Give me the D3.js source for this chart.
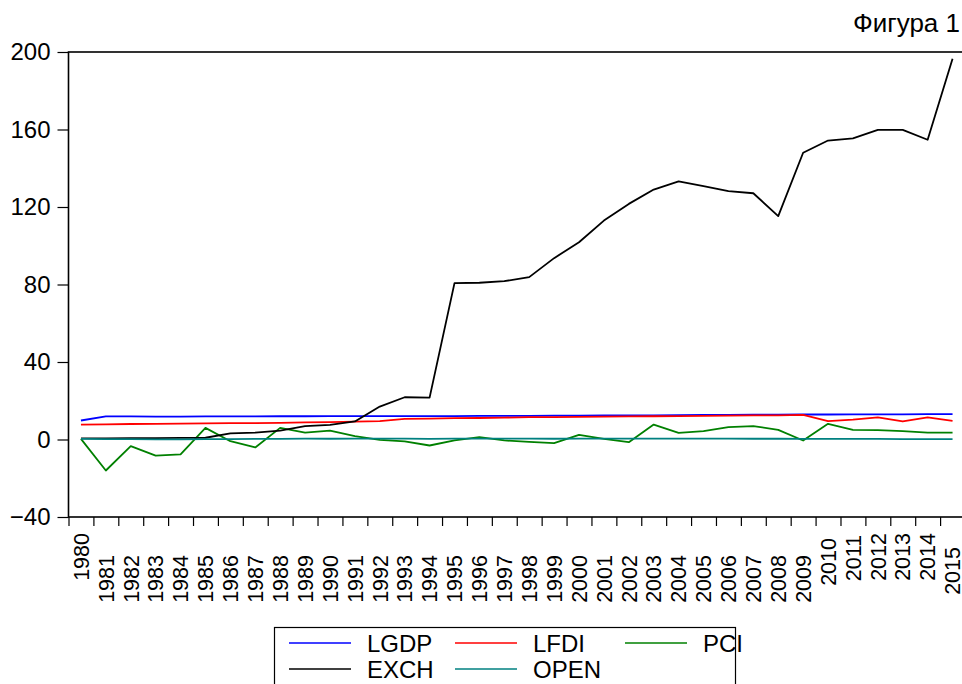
<!DOCTYPE html>
<html>
<head>
<meta charset="utf-8">
<script src="https://cdn.jsdelivr.net/npm/d3@7"></script>
<style>
  body { margin: 0; background: #fff; }
  svg { display: block; font-family: "Liberation Sans", Arial, sans-serif; }
</style>
</head>
<body>
<svg id="chart" width="962" height="684"></svg>
<script>
var years = d3.range(1980, 2016);

var lgdp = [9.8, 11.9, 11.9, 11.8, 11.8, 11.9, 11.9, 11.9, 12.0, 12.0, 12.1, 12.1, 12.1, 12.1, 12.1, 12.1, 12.2, 12.2, 12.2, 12.3, 12.3, 12.4, 12.5, 12.5, 12.6, 12.7, 12.7, 12.8, 12.8, 12.9, 12.9, 13.0, 13.0, 13.0, 13.1, 13.1];
var lfdi = [7.7, 7.8, 8.0, 8.1, 8.2, 8.3, 8.4, 8.5, 8.6, 8.8, 9.0, 9.2, 9.5, 10.6, 10.8, 11.0, 11.1, 11.3, 11.5, 11.6, 11.7, 11.8, 11.9, 12.0, 12.1, 12.2, 12.3, 12.4, 12.5, 12.7, 9.5, 10.3, 11.4, 9.3, 11.4, 9.6];
var pci = [0.3, -16.0, -3.4, -8.3, -7.7, 6.0, -0.9, -4.1, 6.0, 3.6, 4.6, 1.7, -0.2, -1.0, -3.1, -0.5, 1.2, -0.5, -1.2, -1.9, 2.4, 0.3, -1.4, 7.7, 3.4, 4.3, 6.4, 6.9, 5.0, -0.5, 8.1, 5.0, 4.8, 4.3, 3.6, 3.6];
var exch = [0.6, 0.6, 0.7, 0.7, 0.8, 0.9, 3.2, 3.6, 4.6, 6.9, 7.6, 9.3, 17.0, 21.8, 21.6, 80.7, 80.9, 81.7, 83.8, 93.6, 101.8, 113.0, 121.6, 129.0, 133.2, 130.8, 128.2, 127.1, 115.3, 148.0, 154.3, 155.4, 159.8, 159.8, 154.7, 196.5];
var open = [0.3, 0.2, 0.2, 0.1, 0.1, 0.2, 0.2, 0.3, 0.3, 0.4, 0.4, 0.5, 0.5, 0.4, 0.3, 0.4, 0.5, 0.5, 0.4, 0.4, 0.5, 0.5, 0.4, 0.5, 0.5, 0.5, 0.4, 0.4, 0.4, 0.3, 0.3, 0.3, 0.3, 0.2, 0.2, 0.2];

var yTicks = [-40, 0, 40, 80, 120, 160, 200];

var series = [
  { name: "LGDP", values: lgdp, color: "#0000ff" },
  { name: "LFDI", values: lfdi, color: "#ff0000" },
  { name: "PCI",  values: pci,  color: "#008000" },
  { name: "EXCH", values: exch, color: "#000000" },
  { name: "OPEN", values: open, color: "#008080" }
];

// odd vertical shifts of a few year labels in the original
var labelLift = { 1980: 22, 2010: 17, 2011: 20, 2012: 22, 2013: 22, 2014: 22, 2015: 8 };

var svg = d3.select("#chart");

var plotLeft = 68.5, plotRight = 965, plotTop = 52, plotBottom = 517;

var x = d3.scaleLinear().domain([1979.5, 2015.5]).range([plotLeft, plotRight]);
var y = d3.scaleLinear().domain([-40, 200]).range([plotBottom, plotTop]);

// frame
svg.append("rect")
  .attr("x", plotLeft).attr("y", plotTop)
  .attr("width", plotRight - plotLeft).attr("height", plotBottom - plotTop)
  .attr("fill", "none").attr("stroke", "#000").attr("stroke-width", 1.6);

// y axis
var yAxis = svg.append("g")
  .attr("transform", "translate(" + plotLeft + ",0)")
  .call(d3.axisLeft(y).tickValues(yTicks).tickSize(11).tickPadding(7));
yAxis.select(".domain").remove();
yAxis.selectAll("line").attr("stroke", "#000").attr("stroke-width", 1.2);
yAxis.selectAll("text")
  .attr("font-size", 24).attr("fill", "#000")
  .attr("font-family", "'Liberation Sans', Arial, sans-serif");

// x axis ticks at year boundaries
var xAxis = svg.append("g")
  .attr("transform", "translate(0," + plotBottom + ")")
  .call(d3.axisBottom(x).tickValues(years.map(function (d) { return d - 0.5; }))
    .tickSize(9).tickFormat(""));
xAxis.select(".domain").remove();
xAxis.selectAll("line").attr("stroke", "#000").attr("stroke-width", 1.2);

// rotated year labels
svg.append("g").selectAll("text")
  .data(years)
  .enter().append("text")
  .attr("transform", function (d) {
    return "translate(" + x(d) + "," + (555 - (labelLift[d] || 0)) + ") rotate(-90)";
  })
  .attr("text-anchor", "end")
  .attr("dy", "0.36em")
  .attr("font-size", 21.5)
  .attr("fill", "#000")
  .text(function (d) { return d; });

// lines
var line = d3.line()
  .x(function (d, i) { return x(years[i]); })
  .y(function (d) { return y(d); });

svg.append("g").selectAll("path")
  .data(series)
  .enter().append("path")
  .attr("d", function (s) { return line(s.values); })
  .attr("fill", "none")
  .attr("stroke", function (s) { return s.color; })
  .attr("stroke-width", 1.8)
  .attr("stroke-linejoin", "round");

// title
svg.append("text")
  .attr("x", 960).attr("y", 32)
  .attr("text-anchor", "end")
  .attr("font-size", 26)
  .attr("fill", "#000")
  .text("Фигура 1");

// legend
var legend = svg.append("g");
legend.append("rect")
  .attr("x", 274.5).attr("y", 627.5)
  .attr("width", 461).attr("height", 70)
  .attr("fill", "#fff").attr("stroke", "#000").attr("stroke-width", 1.2);

var legendPos = [
  { col: 0, row: 0 }, { col: 1, row: 0 }, { col: 2, row: 0 },
  { col: 0, row: 1 }, { col: 1, row: 1 }
];
var colX = [289, 455, 625];
var rowY = [643, 669];

var item = legend.selectAll("g.item")
  .data(series)
  .enter().append("g")
  .attr("class", "item")
  .attr("transform", function (s, i) {
    return "translate(" + colX[legendPos[i].col] + "," + rowY[legendPos[i].row] + ")";
  });

item.append("line")
  .attr("x1", 0).attr("x2", 62)
  .attr("stroke", function (s) { return s.color; })
  .attr("stroke-width", 1.5);

item.append("text")
  .attr("x", 78).attr("dy", "0.36em")
  .attr("font-size", 24)
  .attr("fill", "#000")
  .text(function (s) { return s.name; });
</script>
</body>
</html>
